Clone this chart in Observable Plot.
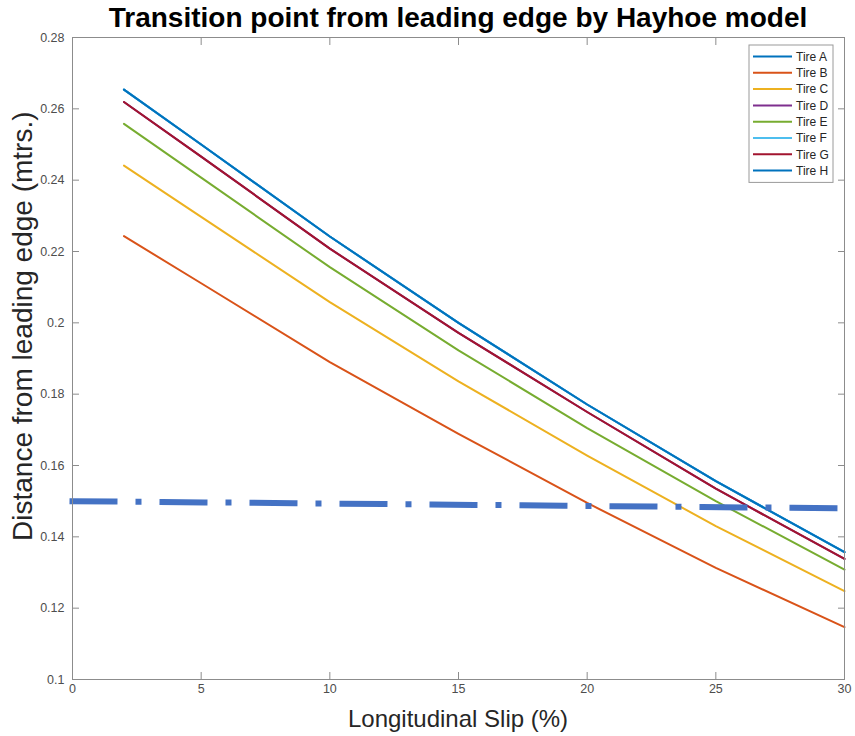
<!DOCTYPE html>
<html>
<head>
<meta charset="utf-8">
<script src="https://cdn.jsdelivr.net/npm/d3@7"></script>
<script src="https://cdn.jsdelivr.net/npm/@observablehq/plot@0.6"></script>
<style>
  body { margin: 0; background: #fff; }
  #chart { width: 855px; height: 736px; }
</style>
</head>
<body>
<div id="chart"></div>
<script>
// Longitudinal slip (%) at which the transition point was evaluated
const slip = [2, 5, 10, 15, 20, 25, 30];

// Distance of the transition point from the leading edge (m), one list per tire
const tireA = [0.2654, 0.2500, 0.2242, 0.2000, 0.1771, 0.1556, 0.1357];
const tireB = [0.2243, 0.2111, 0.1890, 0.1689, 0.1495, 0.1313, 0.1147];
const tireC = [0.2441, 0.2297, 0.2058, 0.1836, 0.1628, 0.1430, 0.1248];
const tireD = [0.2619, 0.2466, 0.2208, 0.1972, 0.1750, 0.1535, 0.1338];
const tireE = [0.2558, 0.2407, 0.2156, 0.1923, 0.1705, 0.1500, 0.1308];
const tireF = [0.2654, 0.2500, 0.2242, 0.2000, 0.1771, 0.1556, 0.1357];
const tireG = [0.2619, 0.2466, 0.2208, 0.1972, 0.1750, 0.1535, 0.1338];
const tireH = [0.2654, 0.2500, 0.2242, 0.2000, 0.1771, 0.1556, 0.1357];

const tireNames = ["Tire A", "Tire B", "Tire C", "Tire D", "Tire E", "Tire F", "Tire G", "Tire H"];
const tireSeries = [tireA, tireB, tireC, tireD, tireE, tireF, tireG, tireH];
const tireColors = ["#0072bd", "#d95319", "#edb120", "#7e2f8e", "#77ac30", "#4dbeee", "#a2142f", "#0072bd"];

// Reference distance drawn as a dash-dot line across the slip range
const limitSlip = [0, 30];
const limitDist = [0.1500, 0.1480];

// Axis ticks
const xTicks = [0, 5, 10, 15, 20, 25, 30];
const yTicks = [0.1, 0.12, 0.14, 0.16, 0.18, 0.2, 0.22, 0.24, 0.26, 0.28];

const titleText = "Transition point from leading edge by Hayhoe model";
const xLabel = "Longitudinal Slip (%)";
const yLabel = "Distance from leading edge (mtrs.)";

const rows = tireNames.flatMap((name, i) =>
  slip.map((s, j) => ({tire: name, slip: s, dist: tireSeries[i][j]}))
);
const limitRows = limitSlip.map((s, j) => ({slip: s, dist: limitDist[j]}));

const W = 855, H = 736;
const axisGray = "#8c8c8c";
const labelGray = "#4d4d4d";
const font = "'Liberation Sans', Arial, Helvetica, sans-serif";

const plot = Plot.plot({
  width: W,
  height: H,
  marginLeft: 72,
  marginRight: 11,
  marginTop: 37,
  marginBottom: 57,
  style: {fontFamily: font, fontSize: "12.5px", background: "#fff", overflow: "visible"},
  x: {domain: [0, 30], label: null},
  y: {domain: [0.1, 0.28], label: null},
  color: {domain: tireNames, range: tireColors},
  marks: [
    // tick labels
    Plot.axisX(xTicks, {anchor: "bottom", tickSize: 0, tickPadding: 5, label: null, color: labelGray}),
    Plot.axisY(yTicks, {anchor: "left", tickSize: 0, tickPadding: 8, label: null, color: labelGray,
      tickFormat: d => String(+d.toFixed(2))}),
    // inward tick marks on all four sides
    Plot.axisX(xTicks, {anchor: "bottom", tickSize: 7, dy: -7, tickFormat: () => "", label: null, color: axisGray}),
    Plot.axisX(xTicks, {anchor: "top", tickSize: 7, dy: 7, tickFormat: () => "", label: null, color: axisGray}),
    Plot.axisY(yTicks, {anchor: "left", tickSize: 7, dx: 7, tickFormat: () => "", label: null, color: axisGray}),
    Plot.axisY(yTicks, {anchor: "right", tickSize: 7, dx: -7, tickFormat: () => "", label: null, color: axisGray}),
    // one curve per tire
    Plot.line(rows, {x: "slip", y: "dist", z: "tire", stroke: "tire", strokeWidth: 2}),
    // dash-dot reference line
    Plot.line(limitRows, {x: "slip", y: "dist", stroke: "#4472c4", strokeWidth: 6,
      strokeDasharray: "42 24 0 24", strokeLinecap: "square"}),
    Plot.frame({stroke: axisGray})
  ]
});

document.getElementById("chart").appendChild(plot);

// Title, axis labels and legend placed relative to the plot frame
const svg = d3.select(plot);
const xs = plot.scale("x"), ys = plot.scale("y");
const frameLeft = xs.apply(0), frameRight = xs.apply(30);
const frameTop = ys.apply(0.28), frameBottom = ys.apply(0.1);
const cx = (frameLeft + frameRight) / 2;

svg.append("text")
  .attr("x", cx).attr("y", 27)
  .attr("text-anchor", "middle")
  .attr("font-family", font).attr("font-size", 28).attr("font-weight", "bold")
  .attr("fill", "#000")
  .text(titleText);

svg.append("text")
  .attr("x", cx).attr("y", frameBottom + 48)
  .attr("text-anchor", "middle")
  .attr("font-family", font).attr("font-size", 24)
  .attr("fill", "#262626")
  .text(xLabel);

// vertical label, its baseline end sitting near the 0.14 tick
svg.append("text")
  .attr("transform", `translate(${frameLeft - 40},${ys.apply(0.1387)}) rotate(-90)`)
  .attr("text-anchor", "start")
  .attr("font-family", font).attr("font-size", 28)
  .attr("fill", "#262626")
  .text(yLabel);

const legW = 84, rowH = 16.3;
const legH = rowH * tireNames.length + 7;
const legX = frameRight - 11 - legW, legY = frameTop + 8;
const leg = svg.append("g").attr("text-anchor", "start");
leg.append("rect")
  .attr("x", legX).attr("y", legY).attr("width", legW).attr("height", legH)
  .attr("fill", "#fff").attr("stroke", "#9a9a9a").attr("stroke-width", 1);
tireNames.forEach((name, i) => {
  const yy = legY + 11.5 + i * rowH;
  leg.append("line")
    .attr("x1", legX + 4).attr("x2", legX + 43).attr("y1", yy).attr("y2", yy)
    .attr("stroke", tireColors[i]).attr("stroke-width", 2);
  leg.append("text")
    .attr("x", legX + 47).attr("y", yy).attr("dy", "0.35em")
    .attr("text-anchor", "start")
    .attr("font-family", font).attr("font-size", 12).attr("fill", "#262626")
    .text(name);
});
</script>
</body>
</html>
